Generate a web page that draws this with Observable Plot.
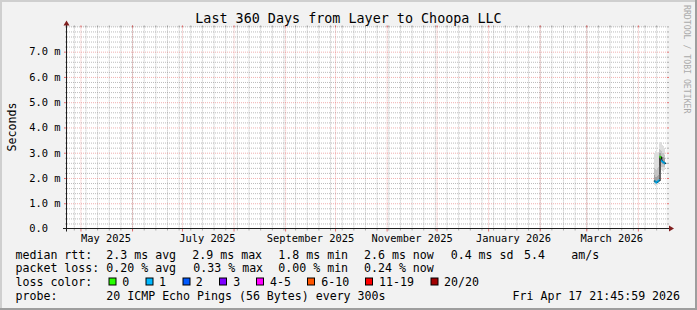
<!DOCTYPE html>
<html><head><meta charset="utf-8">
<script src="https://cdn.jsdelivr.net/npm/d3@7"></script>
<script src="https://cdn.jsdelivr.net/npm/@observablehq/plot@0.6"></script>
<style>
html,body{margin:0;padding:0;background:#f2f2f2;}
#chart svg{display:block;}
</style></head><body><div id="chart"></div>
<script>
// ---------- texts ----------
const title = "Last 360 Days from Layer to Choopa LLC";
const yLabel = "Seconds";
const watermark = "RRDTOOL / TOBI OETIKER";
const endTime = new Date("2026-04-17T21:45:59Z");
const startTime = new Date(+endTime - 360 * 864e5);

// ---------- axis ticks ----------
const yTicks = [0, 1, 2, 3, 4, 5, 6, 7];
const monthLabelDates = ["2025-05-16", "2025-07-16", "2025-09-16", "2025-11-16", "2026-01-16", "2026-03-16"];

// ---------- series (12-hour buckets, values in ms) ----------
const bucketStart = ["2026-04-10T12:00Z","2026-04-11T00:00Z","2026-04-11T12:00Z","2026-04-12T00:00Z","2026-04-12T12:00Z","2026-04-13T00:00Z","2026-04-13T12:00Z","2026-04-14T00:00Z","2026-04-14T12:00Z","2026-04-15T00:00Z","2026-04-15T12:00Z","2026-04-16T00:00Z","2026-04-16T12:00Z","2026-04-17T00:00Z"];
const median  = [1.90,1.88,1.86,1.84,1.88,1.90,1.92,2.86,2.84,2.70,2.66,2.64,2.62,2.60];
const lossPct = [null,0.25,0.20,0.33,0.20,0.25,0.30,0,0,0.25,0.20,0.30,0.25,0.24];
const smokeLo  = [1.74,1.72,1.70,1.72,1.74,1.75,1.76,2.20,2.22,2.30,2.28,2.25,2.30,2.32];
const smokeQ20 = [1.80,1.79,1.78,1.78,1.80,1.82,1.83,2.50,2.48,2.45,2.44,2.42,2.42,2.44];
const smokeQ35 = [1.85,1.84,1.82,1.81,1.84,1.86,1.88,2.70,2.68,2.58,2.55,2.54,2.52,2.52];
const smokeQ65 = [2.10,2.08,2.05,2.04,2.08,2.12,2.15,3.00,2.98,2.88,2.85,2.82,2.80,2.78];
const smokeQ80 = [2.40,2.38,2.35,2.32,2.38,2.42,2.45,3.15,3.12,3.05,3.00,2.98,2.95,2.92];
const smokeHi  = [3.00,3.02,3.05,3.00,2.98,3.04,3.06,3.40,3.42,3.35,3.30,3.25,3.28,3.20];

// ---------- legend ----------
const legendLabels = ["median rtt:", "packet loss:", "loss color:", "probe:"];
const rttStats = ["2.3 ms avg", "2.9 ms max", "1.8 ms min", "2.6 ms now", "0.4 ms sd", "5.4", "am/s"];
const lossStats = ["0.20 % avg", "0.33 % max", "0.00 % min", "0.24 % now"];
const lossClasses = ["0", "1", "2", "3", "4-5", "6-10", "11-19", "20/20"];
const lossColors = ["#26ff00", "#00b8ff", "#0059ff", "#7e00ff", "#ff00ff", "#ff5500", "#ff0000", "#a10000"];
const lossUpper = [0, 1, 2, 3, 5, 10, 19, 20]; // pings lost out of 20
const probeText = "20 ICMP Echo Pings (56 Bytes) every 300s";
const stamp = "Fri Apr 17 21:45:59 2026";

// ---------- build ----------
const H12 = 12 * 3600e3;
const rows = bucketStart.map((s, i) => ({
  t0: new Date(s), t1: new Date(+new Date(s) + H12),
  median: median[i], loss: lossPct[i],
  lo: smokeLo[i], q20: smokeQ20[i], q35: smokeQ35[i], q65: smokeQ65[i], q80: smokeQ80[i], hi: smokeHi[i]
}));
const linePts = rows.map(r => ({t: r.t0, v: r.median})).concat([{t: rows[rows.length - 1].t1, v: rows[rows.length - 1].median}]);
function lossColor(p) {
  const lost = p / 5; // percent -> pings of 20
  for (let k = 0; k < lossUpper.length; k++) if (lost <= lossUpper[k]) return lossColors[k];
  return lossColors[lossColors.length - 1];
}

const minorY = d3.range(1, 41).map(i => +(i * 0.2).toFixed(1)).filter(v => Math.abs(v - Math.round(v)) > 1e-6 || v === 8);
const majorY = yTicks.filter(v => v > 0);
const weekLines = d3.utcSunday.range(startTime, endTime);
const monthLines = d3.utcMonth.range(startTime, endTime);

const W = 697, Hh = 310;
const mL = 67, mR = 31, mT = 26.4, mB = 81.5;
const GRID = "#8f8f8f", MGRID = "#e05050";

const chart = Plot.plot({
  width: W, height: Hh,
  marginLeft: mL, marginRight: mR, marginTop: mT, marginBottom: mB,
  x: {type: "utc", domain: [startTime, endTime], axis: null},
  y: {domain: [0, 8], axis: null},
  style: {background: "#f2f2f2", fontFamily: "'DejaVu Sans Mono', monospace", fontSize: "10.4px", color: "black", overflow: "visible"},
  marks: [
    Plot.frame({fill: "white", stroke: null}),
    // minor grid
    Plot.ruleY(minorY, {stroke: GRID, strokeOpacity: 0.6, strokeDasharray: "1,1"}),
    Plot.ruleX(weekLines, {stroke: GRID, strokeOpacity: 0.6, strokeDasharray: "1,1"}),
    Plot.axisY(minorY, {anchor: "left", tickSize: 2, text: null, stroke: GRID, strokeOpacity: 0.7}),
    Plot.axisY(minorY, {anchor: "right", tickSize: 2, text: null, stroke: GRID, strokeOpacity: 0.7}),
    Plot.axisX(weekLines, {anchor: "bottom", tickSize: 2, text: null, stroke: GRID, strokeOpacity: 0.7}),
    Plot.axisX(weekLines, {anchor: "top", tickSize: 2, text: null, stroke: GRID, strokeOpacity: 0.7}),
    // major grid
    Plot.ruleY(majorY, {stroke: MGRID, strokeOpacity: 0.45, strokeDasharray: "1,1"}),
    Plot.ruleX(monthLines, {stroke: MGRID, strokeOpacity: 0.45, strokeDasharray: "1,1"}),
    Plot.axisY(majorY, {anchor: "left", tickSize: 3, text: null, stroke: MGRID, strokeOpacity: 0.8}),
    Plot.axisY(majorY, {anchor: "right", tickSize: 2, text: null, stroke: MGRID, strokeOpacity: 0.8}),
    Plot.axisX(monthLines, {anchor: "bottom", tickSize: 3, text: null, stroke: MGRID, strokeOpacity: 0.8}),
    Plot.axisX(monthLines, {anchor: "top", tickSize: 2, text: null, stroke: MGRID, strokeOpacity: 0.8}),
    // smoke
    Plot.rect(rows, {x1: "t0", x2: "t1", y1: "lo", y2: "hi", fill: "#dedede", shapeRendering: "crispEdges"}),
    Plot.rect(rows, {x1: "t0", x2: "t1", y1: "q20", y2: "q80", fill: "#c4c4c4", shapeRendering: "crispEdges"}),
    Plot.rect(rows, {x1: "t0", x2: "t1", y1: "q35", y2: "q65", fill: "#a2a2a2", shapeRendering: "crispEdges"}),
    // median
    Plot.line(linePts, {x: "t", y: "v", curve: "step-after", stroke: "black", strokeWidth: 1.2}),
    Plot.ruleY(rows.filter(r => r.loss != null), {y: "median", x1: "t0", x2: "t1", stroke: r => lossColor(r.loss), strokeWidth: 2.6}),
    // axis labels
    Plot.axisY(yTicks, {anchor: "left", tickSize: 0, tickPadding: 7, fill: "black", fontSize: 10.4,
      tickFormat: d => d === 0 ? "0.0\u00a0\u00a0" : d.toFixed(1) + " m", label: null}),
    Plot.axisX(monthLabelDates.map(d => new Date(d + "T00:00Z")), {anchor: "bottom", tickSize: 0, tickPadding: 6, fill: "black", fontSize: 10.4,
      tickFormat: d3.utcFormat("%B %Y"), label: null})
  ]
});
document.getElementById("chart").appendChild(chart);

// ---------- decorations & legend (layout) ----------
const svg = d3.select(chart);
const mono = "'DejaVu Sans Mono', monospace";
// border shades
svg.append("path").attr("d", `M0,0H${W}V2H2V${Hh}H0Z`).attr("fill", "#cfcfcf");
svg.append("path").attr("d", `M${W},0V${Hh}H0V${Hh-2}H${W-2}V0Z`).attr("fill", "#9e9e9e");
// axes
const x0 = mL - 0.5, yb = Hh - mB, xr = W - mR;
svg.append("line").attr("x1", x0).attr("x2", x0).attr("y1", yb + 3).attr("y2", 25).attr("stroke", "#1f1f1f");
svg.append("line").attr("x1", mL - 4).attr("x2", xr + 3).attr("y1", yb).attr("y2", yb).attr("stroke", "#1f1f1f");
svg.append("path").attr("d", `M${x0 - 3},25.5L${x0 + 3},25.5L${x0},20.5Z`).attr("fill", "#801f1f");
svg.append("path").attr("d", `M${xr + 3},${yb - 3}L${xr + 3},${yb + 3}L${xr + 8},${yb}Z`).attr("fill", "#801f1f");
// title
svg.append("text").attr("x", W / 2).attr("y", 23.3).attr("text-anchor", "middle")
  .attr("font-family", mono).attr("font-size", 13.4).attr("fill", "black").text(title);
// y label
svg.append("text").attr("transform", `translate(15.5,127) rotate(-90)`).attr("text-anchor", "middle")
  .attr("font-family", mono).attr("font-size", 11.6).attr("fill", "black").text(yLabel);
// watermark
svg.append("text").attr("transform", `translate(684,5) rotate(90)`).attr("text-anchor", "start")
  .attr("font-family", mono).attr("font-size", 8.2).attr("fill", "#aaaaaa").text(watermark);

// legend
const rowY = [258.5, 272.3, 286.2, 300];
const lg = svg.append("g").attr("font-family", mono).attr("font-size", 11.6).attr("fill", "black")
  .attr("text-anchor", "start").style("white-space", "pre");
legendLabels.forEach((t, i) => lg.append("text").attr("x", 15.5).attr("y", rowY[i]).text(t));
const rttX = [106.3, 192.3, 278.3, 364, 450.7, 524, 571.3];
rttStats.forEach((t, i) => lg.append("text").attr("x", rttX[i]).attr("y", rowY[0]).text(t));
const lossX = [106.3, 193.3, 278.3, 364];
lossStats.forEach((t, i) => lg.append("text").attr("x", lossX[i]).attr("y", rowY[1]).text(t));
const swX = [109, 146, 183, 219.5, 256.5, 307.5, 365.5, 431];
const swLabelX = [122.3, 159, 195.7, 233.3, 270, 321.3, 379, 444];
lossClasses.forEach((c, i) => {
  lg.append("rect").attr("x", swX[i]).attr("y", 278).attr("width", 7).attr("height", 7)
    .attr("fill", lossColors[i]).attr("stroke", "black").attr("stroke-width", 1);
  lg.append("text").attr("x", swLabelX[i]).attr("y", rowY[2]).text(c);
});
lg.append("text").attr("x", 106.3).attr("y", rowY[3]).text(probeText);
lg.append("text").attr("x", 512.5).attr("y", rowY[3]).text(stamp);
</script></body></html>
